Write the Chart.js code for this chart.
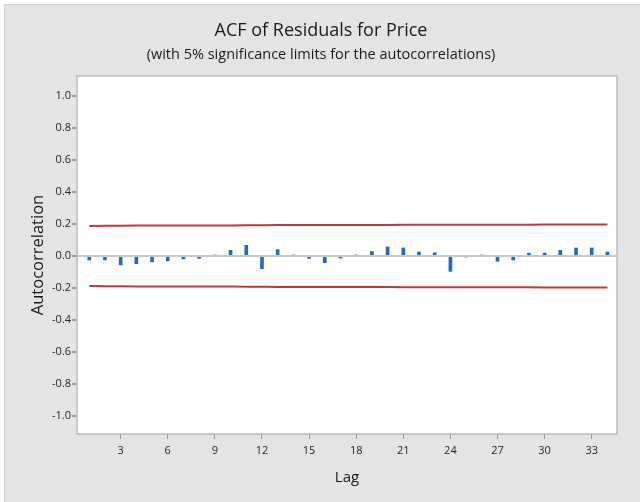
<!DOCTYPE html>
<html>
<head>
<meta charset="utf-8">
<title>ACF of Residuals for Price</title>
<script src="https://cdn.jsdelivr.net/npm/chart.js@4/dist/chart.umd.min.js"></script>
<style>
    html, body { margin: 0; padding: 0; background: #fff; }
    #bg {
        position: absolute; left: 4px; top: 4px; width: 636px; height: 498px;
        background: #e4e4e4; border-left: 1px solid #d4d4d4; border-top: 1px solid #d4d4d4;
        box-sizing: border-box;
    }
    #wrap { position: absolute; left: 0; top: 0; width: 640px; height: 502px; }
</style>
</head>
<body>
<div id="bg"></div>
<div id="wrap"><canvas id="acfChart" width="640" height="502"></canvas></div>
<script>
const lags = [1, 2, 3, 4, 5, 6, 7, 8, 9, 10, 11, 12, 13, 14, 15, 16, 17,
    18, 19, 20, 21, 22, 23, 24, 25, 26, 27, 28, 29, 30, 31, 32, 33, 34];
const acf = [-0.025, -0.025, -0.055, -0.048, -0.037, -0.030, -0.018, -0.015, 0.001, 0.035, 0.067, -0.080,
    0.040, 0.001, -0.015, -0.042, -0.013, 0.001, 0.028, 0.056, 0.050, 0.025, 0.020, -0.096,
    -0.001, 0.001, -0.033, -0.025, 0.018, 0.018, 0.035, 0.050, 0.050, 0.025];
const upperLimit = [0.188, 0.189, 0.189, 0.190, 0.190, 0.190, 0.191, 0.191, 0.191, 0.191, 0.192, 0.192,
    0.193, 0.193, 0.193, 0.193, 0.194, 0.194, 0.194, 0.194, 0.195, 0.195, 0.195, 0.195,
    0.196, 0.196, 0.196, 0.196, 0.196, 0.197, 0.197, 0.197, 0.197, 0.197];
const lowerLimit = [-0.188, -0.189, -0.189, -0.190, -0.190, -0.190, -0.191, -0.191, -0.191, -0.191, -0.192, -0.192,
    -0.193, -0.193, -0.193, -0.193, -0.194, -0.194, -0.194, -0.194, -0.195, -0.195, -0.195, -0.195,
    -0.196, -0.196, -0.196, -0.196, -0.196, -0.197, -0.197, -0.197, -0.197, -0.197];
const xTicks = [3, 6, 9, 12, 15, 18, 21, 24, 27, 30, 33];
const yTicks = [-1.0, -0.8, -0.6, -0.4, -0.2, 0.0, 0.2, 0.4, 0.6, 0.8, 1.0];

const fontFamily = '"Open Sans", "Noto Sans", sans-serif';

// white plot area with a thin grey frame
const plotFrame = {
    id: 'plotFrame',
    beforeDraw(chart) {
        const a = chart.chartArea;
        const ctx = chart.ctx;
        ctx.save();
        ctx.fillStyle = '#ffffff';
        ctx.fillRect(a.left, a.top, a.right - a.left, a.bottom - a.top);
        ctx.restore();
    },
    afterDraw(chart) {
        const a = chart.chartArea;
        const ctx = chart.ctx;
        ctx.save();
        ctx.strokeStyle = '#bababa';
        ctx.lineWidth = 1.5;
        ctx.strokeRect(a.left, a.top, a.right - a.left, a.bottom - a.top);
        ctx.restore();
    }
};

function renderChart() {
    const ctx = document.getElementById('acfChart').getContext('2d');
    new Chart(ctx, {
        type: 'bar',
        data: {
            datasets: [
                {
                    type: 'line',
                    label: 'Upper limit',
                    data: lags.map((l, i) => ({ x: l, y: upperLimit[i] })),
                    borderColor: '#bc3c3c',
                    borderWidth: 2,
                    pointRadius: 0,
                    fill: false
                },
                {
                    type: 'line',
                    label: 'Lower limit',
                    data: lags.map((l, i) => ({ x: l, y: lowerLimit[i] })),
                    borderColor: '#bc3c3c',
                    borderWidth: 2,
                    pointRadius: 0,
                    fill: false
                },
                {
                    label: 'ACF',
                    data: lags.map((l, i) => ({ x: l, y: acf[i] })),
                    backgroundColor: '#1f6cb8',
                    barThickness: 3,
                    grouped: false
                }
            ]
        },
        options: {
            responsive: false,
            animation: false,
            devicePixelRatio: 1,
            layout: { padding: { left: 25, right: 23, top: 0, bottom: 0 } },
            plugins: {
                legend: { display: false },
                tooltip: { enabled: false },
                title: {
                    display: true,
                    text: 'ACF of Residuals for Price',
                    color: '#1a1a1a',
                    font: { family: fontFamily, size: 18, weight: 'normal', lineHeight: 1.2 },
                    padding: { top: 20, bottom: 4.7 }
                },
                subtitle: {
                    display: true,
                    text: '(with 5% significance limits for the autocorrelations)',
                    color: '#1a1a1a',
                    font: { family: fontFamily, size: 14.5, weight: 'normal', lineHeight: 1.2 },
                    padding: { top: 0, bottom: 12.3 }
                }
            },
            scales: {
                x: {
                    type: 'linear',
                    min: 0.22,
                    max: 34.61,
                    offset: false,
                    afterBuildTicks: (scale) => { scale.ticks = xTicks.map(v => ({ value: v })); },
                    afterFit: (scale) => { scale.height = 68; },
                    border: { display: false },
                    grid: { drawOnChartArea: false, drawTicks: true, tickLength: 5, tickColor: '#9a9a9a', offset: false },
                    ticks: {
                        color: '#262626',
                        padding: 5,
                        maxRotation: 0,
                        font: { family: fontFamily, size: 11, lineHeight: 1.2 },
                        callback: (v) => String(v)
                    },
                    title: {
                        display: true,
                        text: 'Lag',
                        color: '#1a1a1a',
                        font: { family: fontFamily, size: 15, lineHeight: 1.2 },
                        padding: { top: 0, bottom: 15 }
                    }
                },
                y: {
                    min: -1.1125,
                    max: 1.125,
                    afterBuildTicks: (scale) => { scale.ticks = yTicks.map(v => ({ value: v })); },
                    afterFit: (scale) => { scale.width = 52; },
                    border: { display: false },
                    grid: {
                        z: 1,
                        drawOnChartArea: true,
                        drawTicks: true,
                        tickLength: 5,
                        tickColor: '#9a9a9a',
                        lineWidth: 2,
                        color: (c) => (c.tick && Math.abs(c.tick.value) < 1e-9 ? '#c8c8c8' : 'rgba(0,0,0,0)')
                    },
                    ticks: {
                        color: '#262626',
                        padding: 1,
                        font: { family: fontFamily, size: 11, lineHeight: 1.2 },
                        callback: (v) => v.toFixed(1)
                    },
                    title: {
                        display: true,
                        text: 'Autocorrelation',
                        color: '#1a1a1a',
                        font: { family: fontFamily, size: 16.5, lineHeight: 1.2 },
                        padding: { top: 3, bottom: 0 }
                    }
                }
            }
        },
        plugins: [plotFrame]
    });
}

document.addEventListener('DOMContentLoaded', function () {
    renderChart();
});
</script>
</body>
</html>
